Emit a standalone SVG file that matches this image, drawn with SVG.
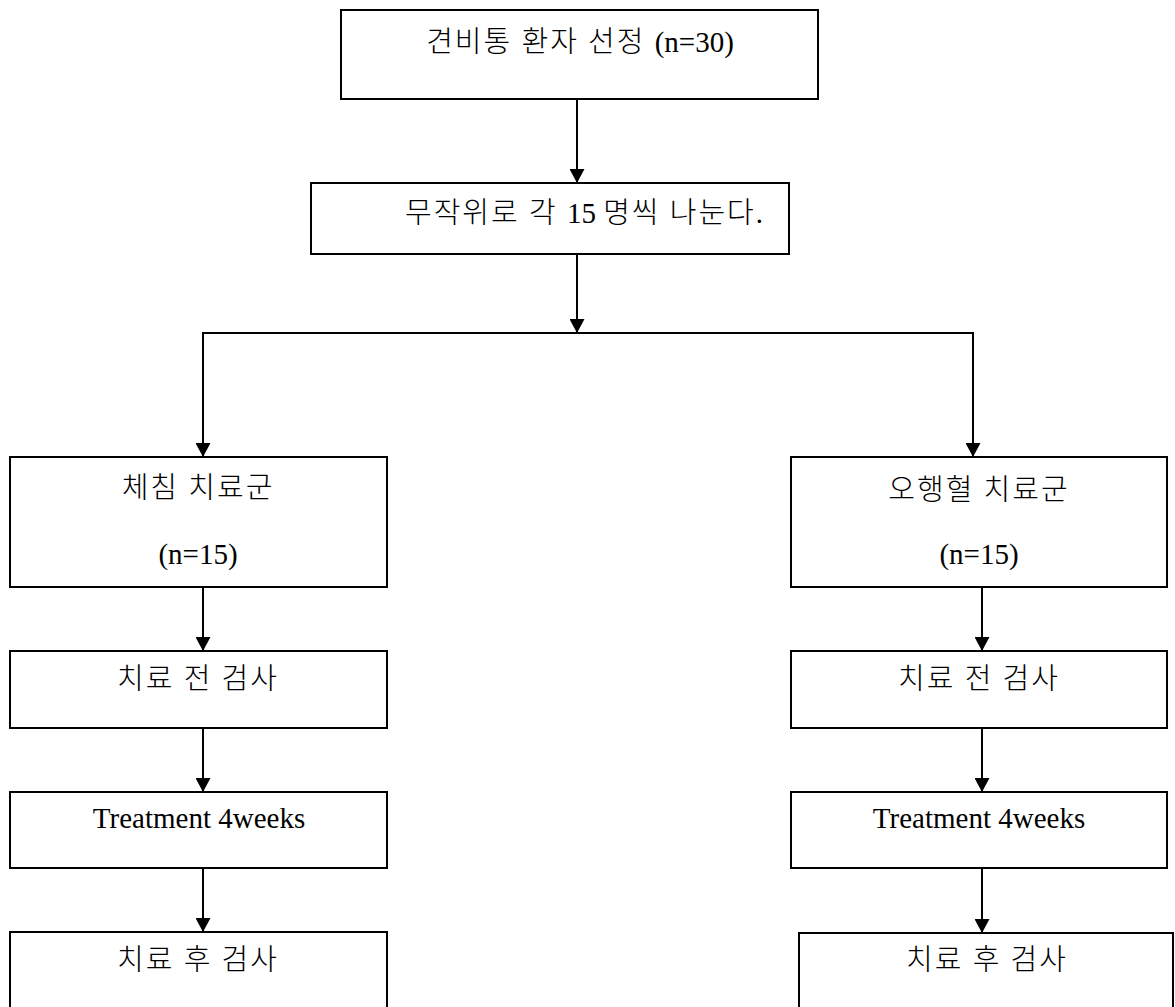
<svg xmlns="http://www.w3.org/2000/svg" width="1175" height="1007" viewBox="0 0 1175 1007">
<defs>
<marker id="arr" viewBox="0 0 14 15" refX="14" refY="7.5" markerWidth="14" markerHeight="15" markerUnits="userSpaceOnUse" orient="auto">
<path d="M0,0 L14,7.5 L0,15 z" fill="#000"/>
</marker>
<style>
.box{fill:#fff;stroke:#000;stroke-width:2}
.t{font-family:"Liberation Serif","Noto Sans CJK KR",serif;font-size:29px;fill:#000;text-anchor:middle}
.k{letter-spacing:2px;font-weight:300}
.c{fill:none;stroke:#000;stroke-width:2}
.a{marker-end:url(#arr)}
</style>
</defs>
<rect width="1175" height="1007" fill="#fff"/>
<g id="connectors">
<line class="c a" x1="577" y1="99" x2="577" y2="183"/>
<line class="c a" x1="577" y1="254" x2="577" y2="333"/>
<line class="c" x1="202" y1="333" x2="974" y2="333"/>
<line class="c a" x1="203" y1="333" x2="203" y2="457"/>
<line class="c a" x1="973" y1="333" x2="973" y2="457"/>
<line class="c a" x1="203" y1="587" x2="203" y2="651"/>
<line class="c a" x1="203" y1="728" x2="203" y2="792"/>
<line class="c a" x1="203" y1="868" x2="203" y2="932"/>
<line class="c a" x1="982" y1="587" x2="982" y2="651"/>
<line class="c a" x1="982" y1="728" x2="982" y2="792"/>
<line class="c a" x1="982" y1="868" x2="982" y2="933"/>
</g>
<g id="n-select">
<rect class="box" x="341" y="10" width="477" height="89"/>
<text class="t" x="580" y="52"><tspan class="k">견비통 환자 선정 </tspan>(n=30)</text>
</g>
<g id="n-random">
<rect class="box" x="311" y="183" width="478" height="71"/>
<text class="t" x="584" y="223"><tspan class="k">무작위로 각 </tspan>15 <tspan class="k">명씩 나눈다</tspan>.</text>
</g>
<g id="n-left-group">
<rect class="box" x="10" y="457" width="377" height="130"/>
<text class="t k" x="198" y="498">체침 치료군</text>
<text class="t" x="198" y="564">(n=15)</text>
</g>
<g id="n-right-group">
<rect class="box" x="791" y="457" width="376" height="130"/>
<text class="t k" x="979" y="500">오행혈 치료군</text>
<text class="t" x="979" y="564">(n=15)</text>
</g>
<g id="n-left-pre">
<rect class="box" x="10" y="651" width="377" height="77"/>
<text class="t k" x="198" y="689">치료 전 검사</text>
</g>
<g id="n-right-pre">
<rect class="box" x="791" y="651" width="376" height="77"/>
<text class="t k" x="979" y="689">치료 전 검사</text>
</g>
<g id="n-left-treat">
<rect class="box" x="10" y="792" width="377" height="76"/>
<text class="t" x="199" y="828">Treatment 4weeks</text>
</g>
<g id="n-right-treat">
<rect class="box" x="791" y="792" width="376" height="76"/>
<text class="t" x="979" y="828">Treatment 4weeks</text>
</g>
<g id="n-left-post">
<rect class="box" x="10" y="932" width="377" height="90"/>
<text class="t k" x="198" y="970">치료 후 검사</text>
</g>
<g id="n-right-post">
<rect class="box" x="799" y="933" width="374" height="90"/>
<text class="t k" x="987" y="970">치료 후 검사</text>
</g>
</svg>
